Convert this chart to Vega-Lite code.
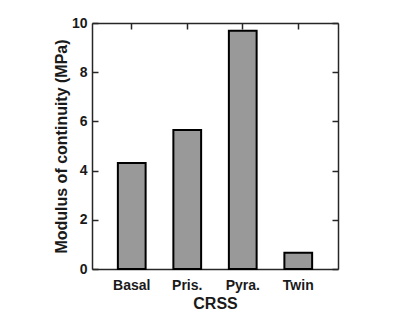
{
  "$schema": "https://vega.github.io/schema/vega-lite/v6.json",
  "width": 246,
  "height": 246,
  "autosize": {"type": "none"},
  "padding": {"left": 92, "top": 23, "right": 77, "bottom": 43},
  "background": "white",
  "config": {
    "view": {"stroke": null},
    "font": "Liberation Sans",
    "axis": {
      "domainColor": "#262626",
      "domainWidth": 1.5,
      "tickColor": "#262626",
      "tickWidth": 1.5,
      "tickSize": -6,
      "zindex": 1,
      "grid": false,
      "labelFont": "Liberation Sans",
      "labelFontWeight": "bold",
      "labelFontSize": 14,
      "labelColor": "#1a1a1a",
      "titleFont": "Liberation Sans",
      "titleFontWeight": "bold",
      "titleFontSize": 16,
      "titleColor": "#1a1a1a"
    }
  },
  "data": {
    "values": [
      {"CRSS": "Basal", "modulus": 4.31},
      {"CRSS": "Pris.", "modulus": 5.65},
      {"CRSS": "Pyra.", "modulus": 9.68},
      {"CRSS": "Twin", "modulus": 0.66}
    ]
  },
  "layer": [
    {
      "mark": {"type": "bar", "fill": "#999999", "stroke": "#000000", "strokeWidth": 2},
      "encoding": {
        "x": {
          "field": "CRSS",
          "type": "nominal",
          "sort": null,
          "scale": {"paddingInner": 0.5, "paddingOuter": 0.466},
          "axis": {
            "orient": "bottom",
            "title": "CRSS",
            "labelAngle": 0,
            "labelBaseline": "alphabetic",
            "labelPadding": 26,
            "titleBaseline": "alphabetic",
            "titleX": 123,
            "titleY": 39.5,
            "titleAlign": "center"
          }
        },
        "y": {
          "field": "modulus",
          "type": "quantitative",
          "scale": {"domain": [0, 10], "nice": false},
          "axis": {
            "orient": "left",
            "title": "Modulus of continuity (MPa)",
            "values": [0, 2, 4, 6, 8, 10],
            "labelPadding": 11,
            "titleAngle": -90,
            "titleBaseline": "alphabetic",
            "titleAlign": "center",
            "titleX": -26,
            "titleY": 123
          }
        }
      }
    },
    {
      "mark": {"type": "bar", "opacity": 0},
      "encoding": {
        "x": {
          "field": "CRSS",
          "type": "nominal",
          "sort": null,
          "axis": {"orient": "top", "labels": false, "title": null}
        },
        "y": {
          "field": "modulus",
          "type": "quantitative",
          "axis": {"orient": "right", "labels": false, "title": null, "values": [0, 2, 4, 6, 8, 10]}
        }
      }
    }
  ],
  "resolve": {"axis": {"x": "independent", "y": "independent"}}
}
